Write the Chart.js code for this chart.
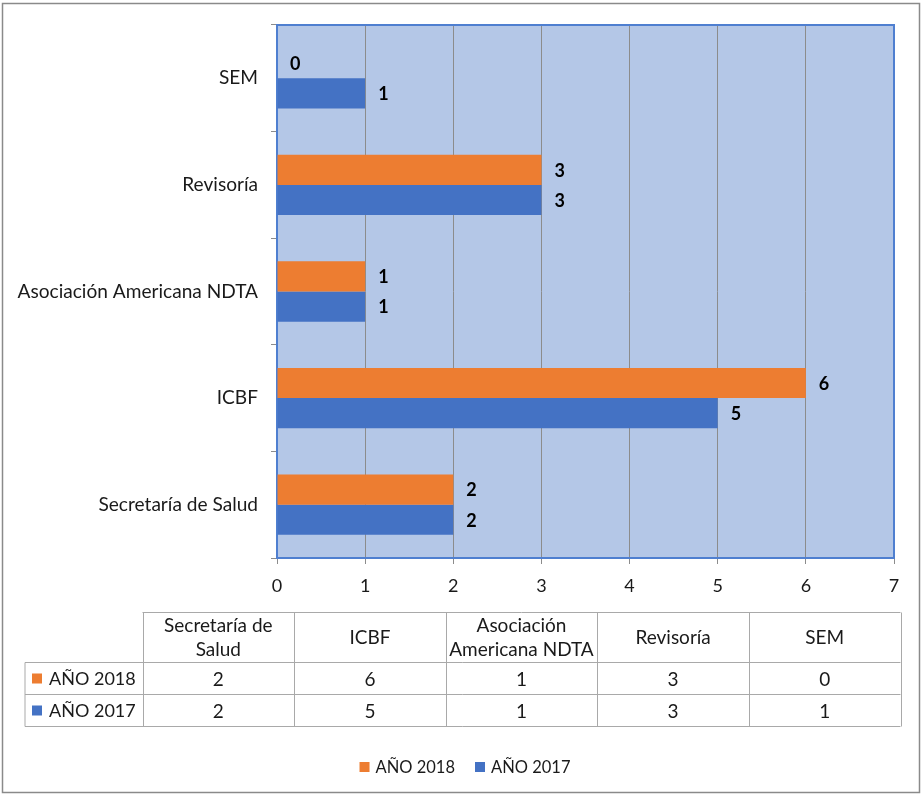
<!DOCTYPE html>
<html><head><meta charset="utf-8">
<script src="https://cdn.jsdelivr.net/npm/chart.js@4"></script>
<style>html,body{margin:0;padding:0;background:#fff;}canvas{display:block;}</style>
</head><body>
<canvas id="c" width="922" height="797"></canvas>
<script>
const categories = ['Secretaría de Salud', 'ICBF', 'Asociación Americana NDTA', 'Revisoría', 'SEM'];
const seriesNames = ['AÑO 2018', 'AÑO 2017'];
const values2018 = [2, 6, 1, 3, 0];
const values2017 = [2, 5, 1, 3, 1];
const xMin = 0, xMax = 7, xStep = 1;
const seriesColors = ['#ED7D31', '#4472C4'];

const FONT = 'Lato, Carlito, Calibri, sans-serif';
const TXT = '#1a1a1a';

const framePlugin = {
  id: 'frame',
  beforeDraw(chart) {
    const c = chart.ctx, a = chart.chartArea;
    c.save();
    c.fillStyle = '#fff';
    c.fillRect(0, 0, chart.width, chart.height);
    c.strokeStyle = '#8a8a8a';
    c.lineWidth = 1.5;
    c.strokeRect(2.5, 3.5, 917, 789);
    c.fillStyle = '#B4C7E7';
    c.fillRect(a.left, a.top, a.right - a.left, a.bottom - a.top);
    c.restore();
  },
  beforeDatasetsDraw(chart) {
    const c = chart.ctx, a = chart.chartArea;
    c.save();
    c.strokeStyle = '#4F7FD0';
    c.lineWidth = 2;
    c.strokeRect(a.left, a.top, a.right - a.left, a.bottom - a.top);
    c.restore();
  }
};

const labelPlugin = {
  id: 'vlabels',
  afterDatasetsDraw(chart) {
    const c = chart.ctx;
    c.save();
    c.font = 'bold 18px ' + FONT;
    c.fillStyle = '#000';
    c.textAlign = 'left';
    c.textBaseline = 'middle';
    chart.data.datasets.forEach((ds, di) => {
      chart.getDatasetMeta(di).data.forEach((el, i) => {
        c.fillText(String(ds.data[i]), el.x + 13, el.y + 1);
      });
    });
    c.restore();
  }
};

function wrapText(c, text, maxW) {
  const words = text.split(' ');
  const lines = [];
  let cur = '';
  words.forEach(w => {
    const t = cur ? cur + ' ' + w : w;
    if (cur && c.measureText(t).width > maxW) { lines.push(cur); cur = w; }
    else cur = t;
  });
  if (cur) lines.push(cur);
  return lines;
}

const tablePlugin = {
  id: 'dtable',
  afterDraw(chart) {
    const c = chart.ctx;
    const left = 25, colStart = 142.5, right = 900.5;
    const yTop = 612.5, yHead = 662.5, yR1 = 694.5, yR2 = 726.5;
    const n = chart.data.labels.length;
    const cw = (right - colStart) / n;
    c.save();
    c.strokeStyle = '#a9a9a9';
    c.lineWidth = 1;
    c.beginPath();
    c.moveTo(colStart, yTop); c.lineTo(right, yTop);
    [yHead, yR1, yR2].forEach(y => { c.moveTo(left, y); c.lineTo(right, y); });
    c.moveTo(left, yHead); c.lineTo(left, yR2);
    for (let k = 0; k <= n; k++) {
      const x = Math.round(colStart + k * cw) + 0.5;
      c.moveTo(x, yTop); c.lineTo(x, yR2);
    }
    c.stroke();
    c.fillStyle = TXT;
    c.font = '19px ' + FONT;
    c.textAlign = 'center';
    c.textBaseline = 'middle';
    chart.data.labels.forEach((lab, k) => {
      const cx = colStart + k * cw + cw / 2;
      const lines = wrapText(c, lab, cw - 1);
      const lh = 24;
      const cy = (yTop + yHead) / 2;
      lines.forEach((ln, li) => c.fillText(ln, cx, cy + (li - (lines.length - 1) / 2) * lh));
    });
    const rowY = [(yHead + yR1) / 2, (yR1 + yR2) / 2];
    chart.data.datasets.forEach((ds, di) => {
      const cy = rowY[di];
      c.fillStyle = ds.backgroundColor;
      c.fillRect(32, cy - 5, 10, 10);
      c.fillStyle = TXT;
      c.textAlign = 'left';
      c.font = '18px ' + FONT;
      c.fillText(ds.label, 49, cy + 1);
      c.textAlign = 'center';
      c.font = '19px ' + FONT;
      ds.data.forEach((v, k) => {
        c.fillText(String(v), colStart + k * cw + cw / 2, cy + 1);
      });
    });
    // legend
    c.font = '16.5px ' + FONT;
    c.textAlign = 'left';
    const items = chart.data.datasets.map(ds => ({ label: ds.label, color: ds.backgroundColor, w: 16 + c.measureText(ds.label).width }));
    const gap = 20;
    const total = items.reduce((s, it) => s + it.w, 0) + gap * (items.length - 1);
    let x = 465 - total / 2;
    const ly = 767;
    items.forEach(it => {
      c.fillStyle = it.color;
      c.fillRect(x, ly - 5, 10, 10);
      c.fillStyle = TXT;
      c.fillText(it.label, x + 16, ly + 1);
      x += it.w + gap;
    });
    c.restore();
  }
};

new Chart(document.getElementById('c'), {
  type: 'bar',
  data: {
    labels: categories,
    datasets: [
      { label: seriesNames[0], data: values2018, backgroundColor: seriesColors[0], categoryPercentage: 0.566, barPercentage: 1 },
      { label: seriesNames[1], data: values2017, backgroundColor: seriesColors[1], categoryPercentage: 0.566, barPercentage: 1 }
    ]
  },
  options: {
    indexAxis: 'y',
    responsive: false,
    animation: false,
    layout: { padding: { left: 0, top: 25, right: 28, bottom: 0 } },
    plugins: { legend: { display: false }, tooltip: { enabled: false } },
    scales: {
      x: {
        min: xMin, max: xMax,
        ticks: { stepSize: xStep, color: TXT, font: { family: FONT, size: 18 }, padding: 11 },
        grid: { color: '#8c8c8c', lineWidth: 1, tickLength: 6, drawTicks: true },
        border: { display: false },
        afterFit(s) { s.height = 239; }
      },
      y: {
        reverse: true,
        ticks: { color: TXT, font: { family: FONT, size: 19.1 }, padding: 13 },
        grid: { drawOnChartArea: false, drawTicks: true, tickLength: 6, color: '#8c8c8c', offset: true },
        border: { display: false },
        afterFit(s) { s.width = 277; }
      }
    }
  },
  plugins: [framePlugin, labelPlugin, tablePlugin]
});
</script>
</body></html>
